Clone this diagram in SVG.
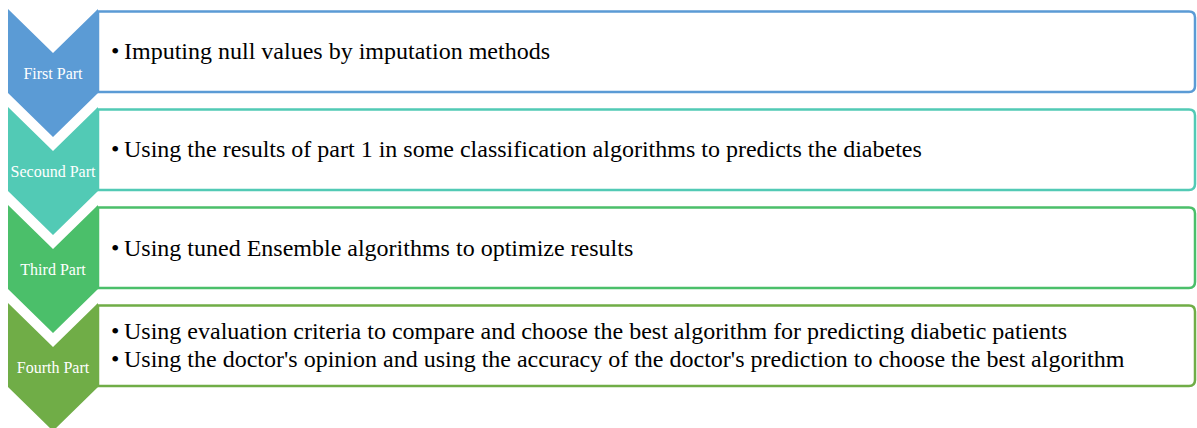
<svg xmlns="http://www.w3.org/2000/svg" width="1197" height="428" viewBox="0 0 1197 428">
  <defs>
    <style>
      .box { fill: #ffffff; stroke-width: 2.5; }
      .lbl { font-family: "Liberation Serif", "Times New Roman", serif; font-size: 16px; fill: #ffffff; text-anchor: middle; }
      .txt { font-family: "Liberation Serif", "Times New Roman", serif; font-size: 24px; fill: #000000; }
      .b1 { stroke: #5B9BD5; } .f1 { fill: #5B9BD5; }
      .b2 { stroke: #52CAB5; } .f2 { fill: #52CAB5; }
      .b3 { stroke: #4BBF6A; } .f3 { fill: #4BBF6A; }
      .b4 { stroke: #70AD47; } .f4 { fill: #70AD47; }
    </style>
  </defs>
  <rect width="1197" height="428" fill="#ffffff"/>

  <g id="part1">
    <path class="box b1" d="M98,11.5 H1189 Q1195,11.5 1195,17.5 V86 Q1195,92 1189,92 H98 Z"/>
    <polygon class="f1" points="8,9 53,53 98,9 98,93 53,137 8,93"/>
    <text class="lbl" x="53" y="79">First Part</text>
    <text class="txt" x="111" y="59">•</text>
    <text class="txt" x="124" y="59">Imputing null values by imputation methods</text>
  </g>

  <g id="part2">
    <path class="box b2" d="M98,109.5 H1189 Q1195,109.5 1195,115.5 V184 Q1195,190 1189,190 H98 Z"/>
    <polygon class="f2" points="8,107 53,151 98,107 98,191 53,235 8,191"/>
    <text class="lbl" x="53" y="177">Secound Part</text>
    <text class="txt" x="111" y="157">•</text>
    <text class="txt" x="124" y="157">Using the results of part 1 in some classification algorithms to predicts the diabetes</text>
  </g>

  <g id="part3">
    <path class="box b3" d="M98,207.5 H1189 Q1195,207.5 1195,213.5 V282 Q1195,288 1189,288 H98 Z"/>
    <polygon class="f3" points="8,205 53,249 98,205 98,289 53,333 8,289"/>
    <text class="lbl" x="53" y="275">Third Part</text>
    <text class="txt" x="111" y="256">•</text>
    <text class="txt" x="124" y="256">Using tuned Ensemble algorithms to optimize results</text>
  </g>

  <g id="part4">
    <path class="box b4" d="M98,305.5 H1189 Q1195,305.5 1195,311.5 V380 Q1195,386 1189,386 H98 Z"/>
    <polygon class="f4" points="8,303 53,347 98,303 98,387 53,431 8,387"/>
    <text class="lbl" x="53" y="373">Fourth Part</text>
    <text class="txt" x="111" y="339">•</text>
    <text class="txt" x="124" y="339">Using evaluation criteria to compare and choose the best algorithm for predicting diabetic patients</text>
    <text class="txt" x="111" y="367">•</text>
    <text class="txt" x="124" y="367">Using the doctor's opinion and using the accuracy of the doctor's prediction to choose the best algorithm</text>
  </g>

  <g id="connectors"></g>
</svg>
